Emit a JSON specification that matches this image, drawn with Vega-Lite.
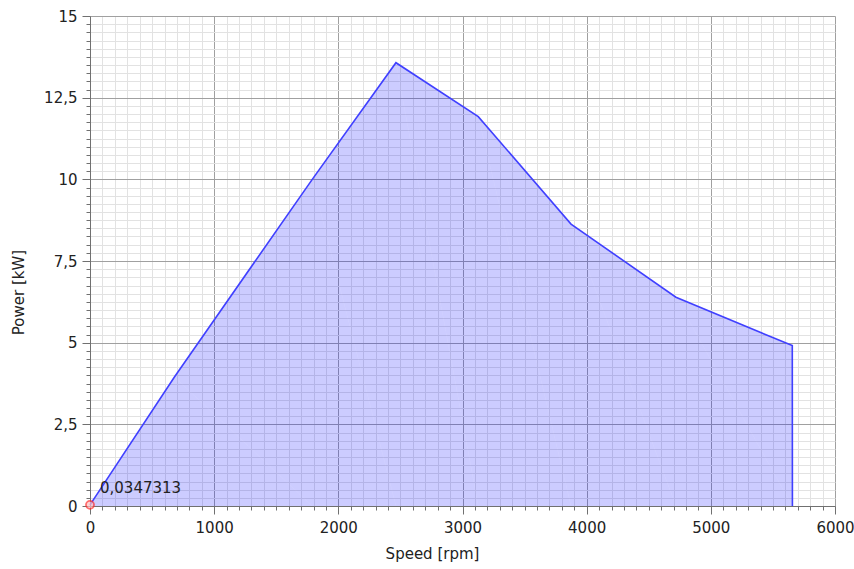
{
  "$schema": "https://vega.github.io/schema/vega-lite/v6.json",
  "width": 745,
  "height": 490,
  "autosize": {"type": "none"},
  "padding": {"left": 90, "top": 16, "right": 19, "bottom": 63},
  "background": "white",
  "config": {
    "view": {"stroke": null},
    "axis": {
      "labelFont": "DejaVu Sans",
      "titleFont": "DejaVu Sans",
      "labelFontSize": 15,
      "titleFontSize": 15,
      "titleFontWeight": "normal",
      "labelColor": "#222",
      "titleColor": "#222",
      "domainColor": "#707070",
      "tickColor": "#707070",
      "labelOverlap": false,
      "labelBound": false,
      "labelFlush": false
    }
  },
  "datasets": {
    "curve": [
      {"order": 1, "speed": 0, "power": 0.0347313},
      {"order": 2, "speed": 680, "power": 3.95},
      {"order": 3, "speed": 1790, "power": 10.0},
      {"order": 4, "speed": 2464, "power": 13.57},
      {"order": 5, "speed": 3127, "power": 11.92},
      {"order": 6, "speed": 3874, "power": 8.63},
      {"order": 7, "speed": 4719, "power": 6.39},
      {"order": 8, "speed": 5656, "power": 4.91},
      {"order": 9, "speed": 5657, "power": 0}
    ],
    "marker": [
      {"speed": 0, "power": 0.0347313, "label": "0,0347313"}
    ]
  },
  "encoding": {
    "x": {
      "field": "speed", "type": "quantitative",
      "scale": {"domain": [0, 6000], "nice": false, "zero": false},
      "axis": {
        "title": "Speed [rpm]",
        "values": [0,100,200,300,400,500,600,700,800,900,1000,1100,1200,1300,1400,1500,1600,1700,1800,1900,2000,2100,2200,2300,2400,2500,2600,2700,2800,2900,3000,3100,3200,3300,3400,3500,3600,3700,3800,3900,4000,4100,4200,4300,4400,4500,4600,4700,4800,4900,5000,5100,5200,5300,5400,5500,5600,5700,5800,5900,6000],
        "labelExpr": "datum.value % 1000 === 0 ? '' + datum.value : ''",
        "grid": true,
        "gridColor": {"condition": {"test": "datum.value % 1000 === 0", "value": "#a0a0a0"}, "value": "#e2e2e2"},
        "tickSize": {"condition": {"test": "datum.value % 1000 === 0", "value": 8}, "value": 4},
        "labelPadding": 6,
        "titleX": 342,
        "titleY": 47,
        "titleAlign": "center",
        "titleBaseline": "middle"
      }
    },
    "y": {
      "field": "power", "type": "quantitative",
      "scale": {"domain": [0, 15], "nice": false, "zero": true},
      "axis": {
        "title": "Power [kW]",
        "values": [0,0.25,0.5,0.75,1,1.25,1.5,1.75,2,2.25,2.5,2.75,3,3.25,3.5,3.75,4,4.25,4.5,4.75,5,5.25,5.5,5.75,6,6.25,6.5,6.75,7,7.25,7.5,7.75,8,8.25,8.5,8.75,9,9.25,9.5,9.75,10,10.25,10.5,10.75,11,11.25,11.5,11.75,12,12.25,12.5,12.75,13,13.25,13.5,13.75,14,14.25,14.5,14.75,15],
        "labelExpr": "datum.value % 2.5 === 0 ? replace('' + datum.value, '.', ',') : ''",
        "grid": true,
        "gridColor": {"condition": {"test": "datum.value % 2.5 === 0", "value": "#a0a0a0"}, "value": "#e2e2e2"},
        "tickSize": {"condition": {"test": "datum.value % 2.5 === 0", "value": 8}, "value": 4},
        "labelPadding": 5,
        "titleX": -72,
        "titleY": 276,
        "titleAngle": -90,
        "titleAlign": "center",
        "titleBaseline": "middle"
      }
    }
  },
  "layer": [
    {
      "data": {"name": "curve"},
      "mark": {"type": "area", "color": "#0000ff", "opacity": 0.2},
      "encoding": {
        "order": {"field": "order", "type": "quantitative"}
      }
    },
    {
      "data": {"name": "curve"},
      "mark": {"type": "line", "color": "#4040ff", "strokeWidth": 1.6},
      "encoding": {
        "order": {"field": "order", "type": "quantitative"}
      }
    },
    {
      "data": {"name": "marker"},
      "mark": {"type": "point", "shape": "circle", "size": 64, "filled": true, "fill": "#ffc0c0", "stroke": "#ff3030", "strokeWidth": 1.8},
      "encoding": {}
    },
    {
      "data": {"name": "marker"},
      "mark": {"type": "text", "align": "left", "baseline": "middle", "dx": 10, "dy": -17, "font": "DejaVu Sans", "fontSize": 15, "color": "#222"},
      "encoding": {
        "text": {"field": "label", "type": "nominal"}
      }
    }
  ]
}
